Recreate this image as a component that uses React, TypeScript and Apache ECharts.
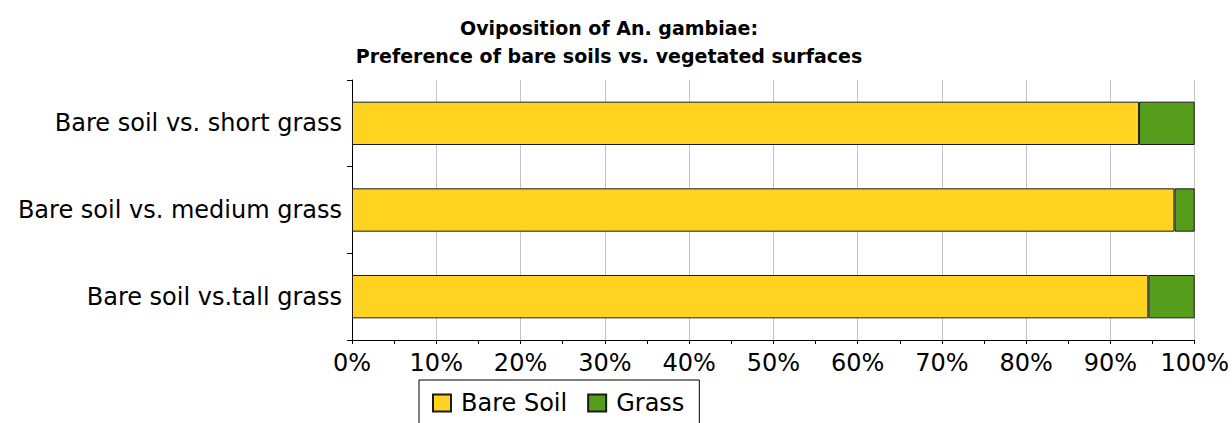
import React, { useEffect, useRef } from "react";
import * as echarts from "echarts";

const categories = [
  "Bare soil vs. short grass",
  "Bare soil vs. medium grass",
  "Bare soil vs.tall grass",
];
const bareSoil = [93.4, 97.6, 94.5];
const grass = [6.6, 2.4, 5.5];
const seriesNames = ["Bare Soil", "Grass"];
const titleText =
  "Oviposition of An. gambiae:\nPreference of bare soils vs. vegetated surfaces";

const FONT = "DejaVu Sans";

export default function App() {
  const ref = useRef<HTMLDivElement>(null);
  useEffect(() => {
    document.body.style.margin = "0";
    if (!ref.current) return;
    const chart = echarts.init(ref.current, undefined, { renderer: "svg" });
    chart.setOption({
      animation: false,
      backgroundColor: "#ffffff",
      title: {
        text: titleText,
        left: 604,
        top: 9,
        textAlign: "center",
        textStyle: {
          fontFamily: FONT,
          fontWeight: "bold",
          fontSize: 19,
          lineHeight: 28,
          color: "#000",
        },
      },
      legend: {
        left: 419,
        top: 380,
        orient: "horizontal",
        data: seriesNames,
        icon: "rect",
        itemWidth: 18,
        itemHeight: 17,
        itemGap: 20,
        padding: [11, 15, 11, 13],
        borderColor: "#000",
        borderWidth: 1,
        borderRadius: 0,
        textStyle: {
          fontFamily: FONT,
          fontSize: 24,
          color: "#000",
          padding: [0, 0, 0, 5],
        },
      },
      grid: {
        left: 352,
        right: 37,
        top: 80,
        bottom: 83,
        containLabel: false,
      },
      xAxis: {
        type: "value",
        min: 0,
        max: 100,
        interval: 10,
        axisLine: { show: true, lineStyle: { color: "#000", width: 1 } },
        axisTick: { show: true, length: 4, lineStyle: { color: "#000" } },
        minorTick: {
          show: true,
          splitNumber: 2,
          length: 4,
          lineStyle: { color: "#000" },
        },
        splitLine: { show: true, lineStyle: { color: "#c4c4c4", width: 1 } },
        axisLabel: {
          formatter: "{value}%",
          fontFamily: FONT,
          fontSize: 24,
          color: "#000",
          margin: 11,
        },
      },
      yAxis: {
        type: "category",
        inverse: true,
        data: categories,
        axisLine: { show: true, lineStyle: { color: "#000", width: 1 } },
        axisTick: { show: true, length: 5, lineStyle: { color: "#000" } },
        splitLine: { show: false },
        axisLabel: {
          fontFamily: FONT,
          fontSize: 24,
          color: "#000",
          margin: 10,
        },
      },
      series: [
        {
          name: seriesNames[0],
          type: "bar",
          stack: "total",
          data: bareSoil,
          barCategoryGap: "50%",
          itemStyle: { color: "#ffd320", borderColor: "#1a1a1a", borderWidth: 1 },
        },
        {
          name: seriesNames[1],
          type: "bar",
          stack: "total",
          data: grass,
          barCategoryGap: "50%",
          itemStyle: { color: "#579d1c", borderColor: "#1a1a1a", borderWidth: 1 },
        },
      ],
    });
    return () => chart.dispose();
  }, []);
  return <div ref={ref} style={{ width: 1232, height: 423 }} />;
}
